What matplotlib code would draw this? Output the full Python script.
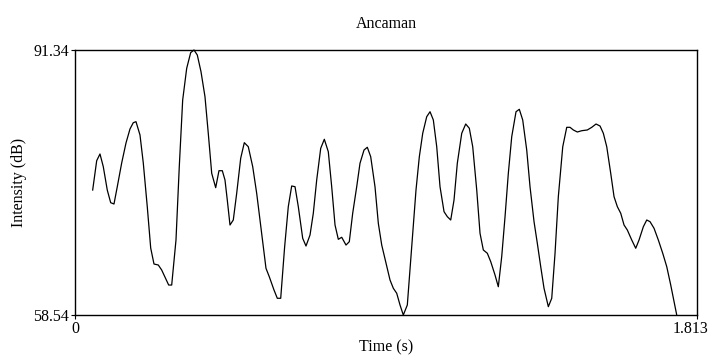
import matplotlib
matplotlib.use('Agg')
import matplotlib.pyplot as plt
from matplotlib.transforms import ScaledTranslation

plt.rcParams['font.family'] = ['Liberation Serif', 'DejaVu Serif']

# intensity contour (seconds, dB)
time_s = [0.0516, 0.0633, 0.0729, 0.0825, 0.0941, 0.1041, 0.1137, 0.1233, 0.1361, 0.1487,
          0.1603, 0.1699, 0.1778, 0.1895, 0.1991, 0.2107, 0.2207, 0.2303, 0.2428, 0.2527,
          0.2623, 0.2731, 0.2819, 0.2944, 0.3040, 0.3139, 0.3256, 0.3372, 0.3469, 0.3565,
          0.3673, 0.3789, 0.3885, 0.3985, 0.4101, 0.4197, 0.4294, 0.4372, 0.4439, 0.4518,
          0.4614, 0.4713, 0.4830, 0.4935, 0.5051, 0.5180, 0.5296, 0.5442, 0.5567, 0.5663,
          0.5800, 0.5897, 0.5996, 0.6110, 0.6217, 0.6316, 0.6413, 0.6509, 0.6637, 0.6733,
          0.6850, 0.6946, 0.7045, 0.7162, 0.7267, 0.7383, 0.7482, 0.7579, 0.7675, 0.7774,
          0.7899, 0.7995, 0.8094, 0.8211, 0.8307, 0.8424, 0.8520, 0.8619, 0.8744, 0.8841,
          0.8940, 0.9065, 0.9182, 0.9278, 0.9377, 0.9473, 0.9569, 0.9686, 0.9814, 0.9939,
          1.0036, 1.0135, 1.0251, 1.0348, 1.0444, 1.0543, 1.0639, 1.0756, 1.0852, 1.0951,
          1.1047, 1.1143, 1.1272, 1.1388, 1.1493, 1.1592, 1.1709, 1.1805, 1.1901, 1.2018,
          1.2117, 1.2242, 1.2338, 1.2437, 1.2534, 1.2630, 1.2729, 1.2854, 1.2950, 1.3049,
          1.3166, 1.3262, 1.3379, 1.3475, 1.3574, 1.3670, 1.3796, 1.3895, 1.3991, 1.4087,
          1.4216, 1.4332, 1.4428, 1.4525, 1.4641, 1.4769, 1.4932, 1.5061, 1.5186, 1.5303,
          1.5399, 1.5498, 1.5614, 1.5711, 1.5807, 1.5906, 1.6002, 1.6098, 1.6227, 1.6343,
          1.6439, 1.6565, 1.6664, 1.6760, 1.6877, 1.7002, 1.7130, 1.7247, 1.7363, 1.7489,
          1.7538]
intensity_db = [74.01, 77.64, 78.47, 76.90, 74.01, 72.44, 72.28, 74.42, 77.35, 79.83,
                81.56, 82.34, 82.47, 80.82, 77.35, 71.95, 66.83, 64.85, 64.73, 64.11,
                63.24, 62.25, 62.25, 67.82, 76.90, 85.15, 89.07, 91.01, 91.34, 90.72,
                88.65, 85.56, 81.03, 76.08, 74.30, 76.40, 76.40, 75.25, 72.77, 69.68,
                70.30, 73.60, 77.94, 79.87, 79.37, 76.90, 73.60, 68.65, 64.32, 63.28,
                61.64, 60.61, 60.61, 66.95, 71.95, 74.51, 74.42, 71.95, 68.03, 67.08,
                68.44, 71.13, 75.25, 79.17, 80.29, 78.75, 74.42, 69.68, 67.91, 68.16,
                67.20, 67.61, 71.13, 74.42, 77.32, 78.96, 79.30, 78.13, 74.42, 69.89,
                67.20, 64.94, 62.87, 61.85, 61.23, 59.78, 58.54, 59.78, 66.99, 74.01,
                78.13, 81.03, 83.08, 83.70, 82.68, 79.37, 74.42, 71.33, 70.71, 70.30,
                72.77, 77.32, 81.03, 82.18, 81.65, 79.37, 74.01, 68.65, 66.59, 66.18,
                65.14, 63.49, 62.04, 65.76, 70.71, 76.08, 80.61, 83.70, 84.00, 82.68,
                78.96, 74.42, 70.09, 67.41, 64.52, 61.85, 59.57, 60.61, 66.18, 73.18,
                79.37, 81.77, 81.77, 81.44, 81.19, 81.35, 81.44, 81.77, 82.18, 81.93,
                81.03, 79.37, 76.08, 73.18, 71.95, 71.13, 69.68, 69.06, 67.82, 66.80,
                67.82, 69.47, 70.30, 70.09, 69.27, 67.82, 66.18, 64.52, 62.25, 59.57,
                58.54]

t_min, t_max = 0, 1.813
db_min, db_max = 58.54, 91.34
x_ticks = [t_min, t_max]
x_tick_labels = ['0', '1.813']
y_ticks = [db_min, db_max]
y_tick_labels = ['58.54', '91.34']

fig = plt.figure(figsize=(7.12, 3.62), dpi=100)
ax = fig.add_axes([0.1053, 0.1298, 0.8737, 0.7321])

ax.plot(time_s, intensity_db, color='black', linewidth=0.9, clip_on=False)

ax.set_xlim(t_min, t_max)
ax.set_ylim(db_min, db_max)
ax.set_xticks(x_ticks)
ax.set_xticklabels(x_tick_labels)
ax.set_yticks(y_ticks)
ax.set_yticklabels(y_tick_labels)
ax.tick_params(direction='out', length=3, width=0.8, labelsize=11.5, pad=1)

# keep the right-hand time label inside the figure
last = ax.get_xticklabels()[-1]
last.set_transform(last.get_transform() + ScaledTranslation(-7 / 100, 0, fig.dpi_scale_trans))

for s in ax.spines.values():
    s.set_linewidth(1)
    s.set_color('black')

ax.set_title('Ancaman', fontsize=11.5, pad=16)
ax.set_xlabel('Time (s)', fontsize=11.5, labelpad=2)
ax.set_ylabel('Intensity (dB)', fontsize=11.5, labelpad=5)

fig.savefig('out.png', dpi=100)
